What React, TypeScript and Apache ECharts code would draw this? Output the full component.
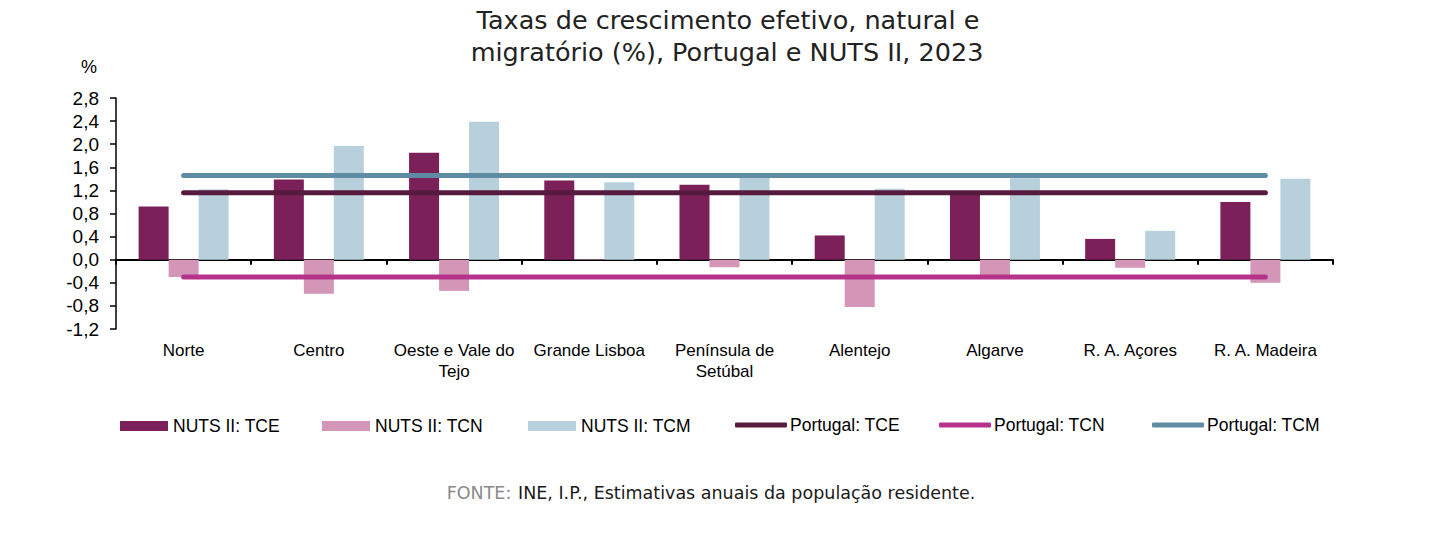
import React, { useEffect, useRef } from "react";
import * as echarts from "echarts";

const categories = [
  "Norte",
  "Centro",
  "Oeste e Vale do\nTejo",
  "Grande Lisboa",
  "Península de\nSetúbal",
  "Alentejo",
  "Algarve",
  "R. A. Açores",
  "R. A. Madeira",
];
const nutsTCE = [0.92, 1.39, 1.85, 1.37, 1.3, 0.42, 1.13, 0.36, 1.0];
const nutsTCN = [-0.3, -0.59, -0.54, 0.01, -0.13, -0.82, -0.28, -0.14, -0.4];
const nutsTCM = [1.22, 1.97, 2.39, 1.34, 1.43, 1.23, 1.41, 0.5, 1.4];
const portugalTCE = 1.16;
const portugalTCN = -0.3;
const portugalTCM = 1.46;

const titleLines = [
  "Taxas de crescimento efetivo, natural e",
  "migratório (%), Portugal e NUTS II, 2023",
];

const fmt = (v: number) => {
  const x = Math.abs(v) < 1e-9 ? 0 : v;
  return x.toFixed(1).replace(".", ",");
};

export default function App() {
  const ref = useRef<HTMLDivElement>(null);
  useEffect(() => {
    if (!ref.current) return;
    const chart = echarts.init(ref.current, undefined, { renderer: "svg" });
    const axisFont = "'Liberation Sans', Arial, sans-serif";
    const titleFont = "'DejaVu Sans', 'Noto Sans', sans-serif";
    const C = {
      tce: "#7B2059",
      tcn: "#D396B6",
      tcm: "#B8D0DC",
      pTce: "#561A3E",
      pTcn: "#B5338A",
      pTcm: "#5E8CA3",
    };
    const barSeries = (name: string, data: number[], color: string) => ({
      name,
      type: "bar",
      data,
      barWidth: 30,
      barGap: "0%",
      itemStyle: { color },
      z: 2,
    });
    const lineSeries = (name: string, v: number, color: string) => ({
      name,
      type: "line",
      data: categories.map(() => v),
      symbol: "none",
      lineStyle: { color, width: 5, cap: "round" },
      itemStyle: { color },
      z: 5,
    });
    const legendItem = (name: string, left: number, isLine: boolean) => ({
      data: [name],
      left,
      top: isLine ? 416 : 417,
      icon: isLine ? "roundRect" : "rect",
      itemWidth: isLine ? 52 : 48,
      itemHeight: isLine ? 5 : 10,
      itemGap: 0,
      padding: 0,
      textStyle: {
        fontFamily: axisFont,
        fontSize: 17.5,
        color: "#000",
        padding: [0, 0, 0, isLine ? -2 : 0],
      },
    });
    chart.setOption({
      animation: false,
      grid: { left: 116, right: 103, top: 98, bottom: 227, containLabel: false },
      xAxis: {
        type: "category",
        data: categories,
        axisLine: { onZero: true, lineStyle: { color: "#000", width: 2 } },
        axisTick: { show: true, length: 5, lineStyle: { color: "#000", width: 2 } },
        axisLabel: {
          interval: 0,
          margin: 11,
          fontFamily: axisFont,
          fontSize: 17,
          lineHeight: 21,
          color: "#000",
        },
        splitLine: { show: false },
      },
      yAxis: {
        type: "value",
        min: -1.2,
        max: 2.8,
        interval: 0.4,
        axisLine: { show: true, lineStyle: { color: "#000", width: 1.5 } },
        axisTick: { show: true, length: 6, lineStyle: { color: "#000", width: 1.5 } },
        axisLabel: {
          formatter: (v: number) => fmt(v),
          fontFamily: axisFont,
          fontSize: 19,
          color: "#000",
          margin: 17,
        },
        splitLine: { show: false },
      },
      legend: [
        legendItem("NUTS II: TCE", 120, false),
        legendItem("NUTS II: TCN", 322, false),
        legendItem("NUTS II: TCM", 528, false),
        legendItem("Portugal: TCE", 735, true),
        legendItem("Portugal: TCN", 939, true),
        legendItem("Portugal: TCM", 1152, true),
      ],
      series: [
        barSeries("NUTS II: TCE", nutsTCE, C.tce),
        barSeries("NUTS II: TCN", nutsTCN, C.tcn),
        barSeries("NUTS II: TCM", nutsTCM, C.tcm),
        lineSeries("Portugal: TCE", portugalTCE, C.pTce),
        lineSeries("Portugal: TCN", portugalTCN, C.pTcn),
        lineSeries("Portugal: TCM", portugalTCM, C.pTcm),
      ],
      graphic: [
        {
          type: "text",
          x: 728,
          y: 20,
          style: {
            text: titleLines[0],
            fontFamily: titleFont,
            fontSize: 25.5,
            fill: "#222",
            textAlign: "center",
            textVerticalAlign: "middle",
          },
        },
        {
          type: "text",
          x: 727,
          y: 52,
          style: {
            text: titleLines[1],
            fontFamily: titleFont,
            fontSize: 25.5,
            fill: "#222",
            textAlign: "center",
            textVerticalAlign: "middle",
          },
        },
        {
          type: "text",
          x: 89,
          y: 67,
          style: {
            text: "%",
            fontFamily: axisFont,
            fontSize: 18,
            fill: "#000",
            textAlign: "center",
            textVerticalAlign: "middle",
          },
        },
        {
          type: "text",
          x: 711,
          y: 493,
          style: {
            text: "{g|FONTE:}  {b|INE, I.P., Estimativas anuais da população residente.}",
            textAlign: "center",
            textVerticalAlign: "middle",
            rich: {
              g: { fontFamily: titleFont, fontSize: 17.5, fill: "#8a8a8a" },
              b: { fontFamily: titleFont, fontSize: 17.5, fill: "#1a1a1a" },
            },
          },
        },
      ],
    });
    return () => chart.dispose();
  }, []);
  return (
    <div
      ref={ref}
      style={{ position: "absolute", left: 0, top: 0, width: 1436, height: 556 }}
    />
  );
}
